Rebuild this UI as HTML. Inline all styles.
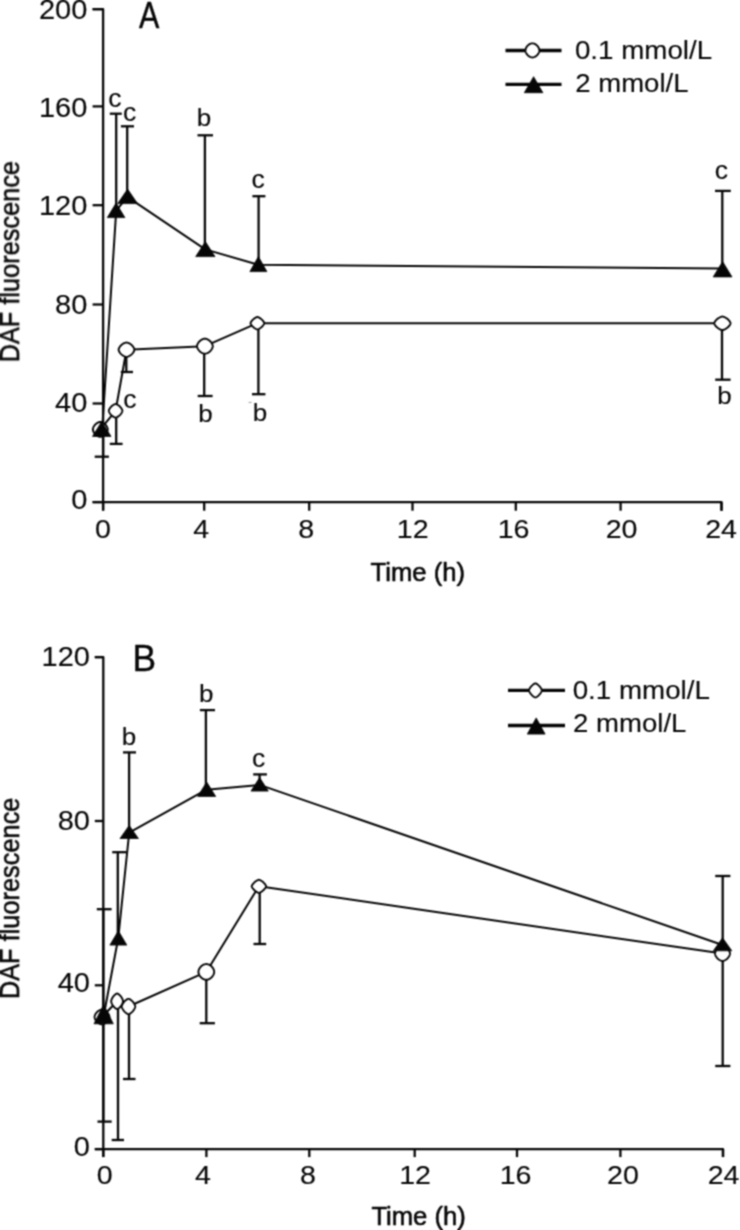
<!DOCTYPE html>
<html><head><meta charset="utf-8"><title>DAF fluorescence</title>
<style>
html,body{margin:0;padding:0;background:#fff;}
body{width:740px;height:1230px;overflow:hidden;}
svg{display:block;}
svg text{font-family:"Liberation Sans",sans-serif;fill:#060606;stroke:#060606;stroke-width:0.12;stroke-linejoin:round;}
</style></head><body>
<svg width="740" height="1230" viewBox="0 0 740 1230" stroke="#060606" fill="none">
<defs><filter id="soft" filterUnits="userSpaceOnUse" x="0" y="0" width="740" height="1230" color-interpolation-filters="sRGB"><feConvolveMatrix order="3" kernelMatrix="1 2 1 2 5 2 1 2 1" divisor="17" edgeMode="duplicate" preserveAlpha="false"/></filter></defs>
<rect x="0" y="0" width="740" height="1230" fill="#fff" stroke="none"/>
<g filter="url(#soft)">
<line x1="116.20" y1="210.00" x2="116.20" y2="113.70" stroke-width="2.3" stroke-linecap="butt"/>
<line x1="109.80" y1="113.70" x2="121.80" y2="113.70" stroke-width="2.3" stroke-linecap="butt"/>
<line x1="127.20" y1="196.00" x2="127.20" y2="126.30" stroke-width="2.3" stroke-linecap="butt"/>
<line x1="120.90" y1="126.30" x2="134.00" y2="126.30" stroke-width="2.3" stroke-linecap="butt"/>
<line x1="204.90" y1="249.00" x2="204.90" y2="135.30" stroke-width="2.3" stroke-linecap="butt"/>
<line x1="197.50" y1="135.30" x2="213.00" y2="135.30" stroke-width="2.3" stroke-linecap="butt"/>
<line x1="258.60" y1="264.00" x2="258.60" y2="196.20" stroke-width="2.3" stroke-linecap="butt"/>
<line x1="252.40" y1="196.20" x2="265.40" y2="196.20" stroke-width="2.3" stroke-linecap="butt"/>
<line x1="722.30" y1="268.00" x2="722.30" y2="190.90" stroke-width="2.3" stroke-linecap="butt"/>
<line x1="715.00" y1="190.90" x2="730.80" y2="190.90" stroke-width="2.3" stroke-linecap="butt"/>
<line x1="103.10" y1="430.00" x2="103.10" y2="456.70" stroke-width="2.3" stroke-linecap="butt"/>
<line x1="94.70" y1="456.70" x2="108.90" y2="456.70" stroke-width="2.3" stroke-linecap="butt"/>
<line x1="116.20" y1="411.00" x2="116.20" y2="443.90" stroke-width="2.3" stroke-linecap="butt"/>
<line x1="109.80" y1="443.90" x2="122.60" y2="443.90" stroke-width="2.3" stroke-linecap="butt"/>
<line x1="126.30" y1="350.00" x2="126.30" y2="372.00" stroke-width="2.3" stroke-linecap="butt"/>
<line x1="120.80" y1="372.00" x2="133.00" y2="372.00" stroke-width="2.3" stroke-linecap="butt"/>
<line x1="204.20" y1="347.00" x2="204.20" y2="396.00" stroke-width="2.3" stroke-linecap="butt"/>
<line x1="197.70" y1="396.00" x2="212.60" y2="396.00" stroke-width="2.3" stroke-linecap="butt"/>
<line x1="258.40" y1="324.00" x2="258.40" y2="394.20" stroke-width="2.3" stroke-linecap="butt"/>
<line x1="252.00" y1="394.20" x2="265.40" y2="394.20" stroke-width="2.3" stroke-linecap="butt"/>
<line x1="722.00" y1="324.00" x2="722.00" y2="379.70" stroke-width="2.3" stroke-linecap="butt"/>
<line x1="715.20" y1="379.70" x2="730.60" y2="379.70" stroke-width="2.3" stroke-linecap="butt"/>
<polyline fill="none" stroke-width="2.0" stroke-linejoin="round" points="100.30,429.40 115.60,410.80 126.50,349.70 204.90,346.20 257.40,323.20 722.40,323.30"/>
<polyline fill="none" stroke-width="2.0" stroke-linejoin="round" points="102.20,429.30 116.20,210.60 127.30,196.80 205.20,249.40 258.30,264.80 722.20,268.40"/>
<polyline fill="none" stroke-width="2.3" stroke-linejoin="round" points="92.60,9.20 103.10,9.20 103.10,510.60"/>
<polyline fill="none" stroke-width="2.3" stroke-linejoin="round" points="92.60,502.10 721.50,502.10 721.50,510.70"/>
<line x1="92.60" y1="9.20" x2="103.10" y2="9.20" stroke-width="2.3" stroke-linecap="butt"/>
<line x1="92.60" y1="106.40" x2="103.10" y2="106.40" stroke-width="2.3" stroke-linecap="butt"/>
<line x1="92.60" y1="205.20" x2="103.10" y2="205.20" stroke-width="2.3" stroke-linecap="butt"/>
<line x1="92.60" y1="304.50" x2="103.10" y2="304.50" stroke-width="2.3" stroke-linecap="butt"/>
<line x1="92.60" y1="403.50" x2="103.10" y2="403.50" stroke-width="2.3" stroke-linecap="butt"/>
<line x1="92.60" y1="502.10" x2="103.10" y2="502.10" stroke-width="2.3" stroke-linecap="butt"/>
<line x1="103.10" y1="502.10" x2="103.10" y2="510.70" stroke-width="2.3" stroke-linecap="butt"/>
<line x1="204.20" y1="502.10" x2="204.20" y2="510.70" stroke-width="2.3" stroke-linecap="butt"/>
<line x1="309.20" y1="502.10" x2="309.20" y2="510.70" stroke-width="2.3" stroke-linecap="butt"/>
<line x1="412.50" y1="502.10" x2="412.50" y2="510.70" stroke-width="2.3" stroke-linecap="butt"/>
<line x1="515.80" y1="502.10" x2="515.80" y2="510.70" stroke-width="2.3" stroke-linecap="butt"/>
<line x1="620.60" y1="502.10" x2="620.60" y2="510.70" stroke-width="2.3" stroke-linecap="butt"/>
<line x1="721.50" y1="502.10" x2="721.50" y2="510.70" stroke-width="2.3" stroke-linecap="butt"/>
<polygon fill="#fff" stroke-width="1.9" stroke-linejoin="round" points="107.75,429.40 107.68,430.08 107.45,430.92 107.09,431.81 106.59,432.70 105.97,433.55 105.26,434.36 104.45,435.07 103.60,435.69 102.71,436.19 101.82,436.55 100.98,436.78 100.30,436.85 99.62,436.78 98.78,436.55 97.89,436.19 97.00,435.69 96.15,435.07 95.34,434.36 94.63,433.55 94.01,432.70 93.51,431.81 93.15,430.92 92.92,430.08 92.85,429.40 92.92,428.72 93.15,427.88 93.51,426.99 94.01,426.10 94.63,425.25 95.34,424.44 96.15,423.73 97.00,423.11 97.89,422.61 98.78,422.25 99.62,422.02 100.30,421.95 100.98,422.02 101.82,422.25 102.71,422.61 103.60,423.11 104.45,423.73 105.26,424.44 105.97,425.25 106.59,426.10 107.09,426.99 107.45,427.88 107.68,428.72"/>
<polygon fill="#fff" stroke-width="1.9" stroke-linejoin="round" points="122.40,410.80 122.32,411.25 122.09,411.92 121.72,412.69 121.21,413.50 120.59,414.31 119.88,415.08 119.11,415.79 118.30,416.41 117.49,416.92 116.72,417.29 116.05,417.52 115.60,417.60 115.15,417.52 114.48,417.29 113.71,416.92 112.90,416.41 112.09,415.79 111.32,415.08 110.61,414.31 109.99,413.50 109.48,412.69 109.11,411.92 108.88,411.25 108.80,410.80 108.88,410.35 109.11,409.68 109.48,408.91 109.99,408.10 110.61,407.29 111.32,406.52 112.09,405.81 112.90,405.19 113.71,404.68 114.48,404.31 115.15,404.08 115.60,404.00 116.05,404.08 116.72,404.31 117.49,404.68 118.30,405.19 119.11,405.81 119.88,406.52 120.59,407.29 121.21,408.10 121.72,408.91 122.09,409.68 122.32,410.35"/>
<polygon fill="#fff" stroke-width="1.9" stroke-linejoin="round" points="134.40,349.70 134.32,350.26 134.06,351.03 133.66,351.87 133.10,352.73 132.42,353.57 131.62,354.37 130.75,355.09 129.82,355.72 128.88,356.22 127.96,356.59 127.12,356.82 126.50,356.90 125.88,356.82 125.04,356.59 124.12,356.22 123.18,355.72 122.25,355.09 121.38,354.37 120.58,353.57 119.90,352.73 119.34,351.87 118.94,351.03 118.68,350.26 118.60,349.70 118.68,349.14 118.94,348.37 119.34,347.53 119.90,346.67 120.58,345.83 121.38,345.03 122.25,344.31 123.18,343.68 124.12,343.18 125.04,342.81 125.88,342.58 126.50,342.50 127.12,342.58 127.96,342.81 128.88,343.18 129.82,343.68 130.75,344.31 131.62,345.03 132.42,345.83 133.10,346.67 133.66,347.53 134.06,348.37 134.32,349.14"/>
<polygon fill="#fff" stroke-width="1.9" stroke-linejoin="round" points="212.80,346.20 212.72,346.89 212.48,347.74 212.10,348.64 211.57,349.54 210.92,350.41 210.15,351.22 209.31,351.95 208.40,352.57 207.45,353.08 206.51,353.45 205.62,353.67 204.90,353.75 204.18,353.67 203.29,353.45 202.35,353.08 201.40,352.57 200.49,351.95 199.65,351.22 198.88,350.41 198.23,349.54 197.70,348.64 197.32,347.74 197.08,346.89 197.00,346.20 197.08,345.51 197.32,344.66 197.70,343.76 198.23,342.86 198.88,341.99 199.65,341.18 200.49,340.45 201.40,339.83 202.35,339.32 203.29,338.95 204.18,338.73 204.90,338.65 205.62,338.73 206.51,338.95 207.45,339.32 208.40,339.83 209.31,340.45 210.15,341.18 210.92,341.99 211.57,342.86 212.10,343.76 212.48,344.66 212.72,345.51"/>
<polygon fill="#fff" stroke-width="1.9" stroke-linejoin="round" points="264.30,323.20 264.22,323.54 263.97,324.11 263.56,324.78 263.02,325.52 262.36,326.28 261.61,327.01 260.80,327.69 259.96,328.29 259.15,328.78 258.40,329.15 257.78,329.37 257.40,329.45 257.02,329.37 256.40,329.15 255.65,328.78 254.84,328.29 254.00,327.69 253.19,327.01 252.44,326.28 251.78,325.52 251.24,324.78 250.83,324.11 250.58,323.54 250.50,323.20 250.58,322.86 250.83,322.29 251.24,321.62 251.78,320.88 252.44,320.12 253.19,319.39 254.00,318.71 254.84,318.11 255.65,317.62 256.40,317.25 257.02,317.03 257.40,316.95 257.78,317.03 258.40,317.25 259.15,317.62 259.96,318.11 260.80,318.71 261.61,319.39 262.36,320.12 263.02,320.88 263.56,321.62 263.97,322.29 264.22,322.86"/>
<polygon fill="#fff" stroke-width="1.9" stroke-linejoin="round" points="730.55,323.30 730.46,323.75 730.18,324.41 729.73,325.18 729.13,325.98 728.39,326.78 727.53,327.55 726.60,328.26 725.63,328.87 724.66,329.37 723.74,329.75 722.94,329.97 722.40,330.05 721.86,329.97 721.06,329.75 720.14,329.37 719.17,328.87 718.20,328.26 717.27,327.55 716.41,326.78 715.67,325.98 715.07,325.18 714.62,324.41 714.34,323.75 714.25,323.30 714.34,322.85 714.62,322.19 715.07,321.42 715.67,320.62 716.41,319.82 717.27,319.05 718.20,318.34 719.17,317.73 720.14,317.23 721.06,316.85 721.86,316.63 722.40,316.55 722.94,316.63 723.74,316.85 724.66,317.23 725.63,317.73 726.60,318.34 727.53,319.05 728.39,319.82 729.13,320.62 729.73,321.42 730.18,322.19 730.46,322.85"/>
<polygon fill="#060606" stroke="#060606" stroke-width="0.8" stroke-linejoin="round" points="101.75,421.40 92.50,436.40 111.00,436.40"/>
<polygon fill="#060606" stroke="#060606" stroke-width="0.8" stroke-linejoin="round" points="116.10,203.00 107.30,217.60 124.90,217.60"/>
<polygon fill="#060606" stroke="#060606" stroke-width="0.8" stroke-linejoin="round" points="127.60,189.10 117.70,203.60 137.50,203.60"/>
<polygon fill="#060606" stroke="#060606" stroke-width="0.8" stroke-linejoin="round" points="205.35,241.60 195.70,256.60 215.00,256.60"/>
<polygon fill="#060606" stroke="#060606" stroke-width="0.8" stroke-linejoin="round" points="258.40,256.60 249.90,271.60 266.90,271.60"/>
<polygon fill="#060606" stroke="#060606" stroke-width="0.8" stroke-linejoin="round" points="722.60,261.60 713.20,276.90 732.00,276.90"/>
<text transform="translate(38.93,18.80) scale(1.082,1)" font-size="26.8">200</text>
<text transform="translate(38.93,117.00) scale(1.082,1)" font-size="26.8">160</text>
<text transform="translate(38.93,214.80) scale(1.082,1)" font-size="26.8">120</text>
<text transform="translate(55.10,314.10) scale(1.082,1)" font-size="26.8">80</text>
<text transform="translate(55.10,411.50) scale(1.082,1)" font-size="26.8">40</text>
<text transform="translate(71.19,509.40) scale(1.082,1)" font-size="26.8">0</text>
<text transform="translate(95.03,537.60) scale(1.1,1)" font-size="26.0">0</text>
<text transform="translate(193.14,537.60) scale(1.1,1)" font-size="26.0">4</text>
<text transform="translate(298.26,537.60) scale(1.1,1)" font-size="26.0">8</text>
<text transform="translate(396.77,537.60) scale(1.1,1)" font-size="26.0">12</text>
<text transform="translate(497.66,537.60) scale(1.1,1)" font-size="26.0">16</text>
<text transform="translate(605.65,537.60) scale(1.1,1)" font-size="26.0">20</text>
<text transform="translate(705.21,537.60) scale(1.1,1)" font-size="26.0">24</text>
<text transform="translate(108.18,106.80) scale(1.0,1)" font-size="26.5">c</text>
<text transform="translate(122.98,120.70) scale(1.0,1)" font-size="26.5">c</text>
<text transform="translate(196.77,126.00) scale(1.1,1)" font-size="23.6">b</text>
<text transform="translate(251.48,188.30) scale(1.0,1)" font-size="26.5">c</text>
<text transform="translate(714.68,179.00) scale(1.0,1)" font-size="26.5">c</text>
<text transform="translate(123.18,408.10) scale(1.0,1)" font-size="26.5">c</text>
<text transform="translate(198.37,422.20) scale(1.1,1)" font-size="23.6">b</text>
<text transform="translate(252.77,420.70) scale(1.1,1)" font-size="23.6">b</text>
<text transform="translate(717.27,404.20) scale(1.1,1)" font-size="23.6">b</text>
<text transform="translate(139.12,28.00) scale(0.832,1)" font-size="36.6" style="stroke-width:0.45">A</text>
<line x1="248.6" y1="402.4" x2="251.6" y2="402.4" stroke="#9a9a9a" stroke-width="1"/>
<line x1="505.50" y1="50.50" x2="561.50" y2="50.50" stroke-width="3.3" stroke-linecap="butt"/>
<polygon fill="#fff" stroke-width="1.9" stroke-linejoin="round" points="539.35,50.40 539.28,51.13 539.09,51.97 538.76,52.82 538.32,53.66 537.77,54.46 537.13,55.20 536.40,55.85 535.62,56.41 534.79,56.86 533.95,57.18 533.12,57.38 532.40,57.45 531.68,57.38 530.85,57.18 530.01,56.86 529.18,56.41 528.40,55.85 527.67,55.20 527.03,54.46 526.48,53.66 526.04,52.82 525.71,51.97 525.52,51.13 525.45,50.40 525.52,49.67 525.71,48.83 526.04,47.98 526.48,47.14 527.03,46.34 527.67,45.60 528.40,44.95 529.18,44.39 530.01,43.94 530.85,43.62 531.68,43.42 532.40,43.35 533.12,43.42 533.95,43.62 534.79,43.94 535.62,44.39 536.40,44.95 537.13,45.60 537.77,46.34 538.32,47.14 538.76,47.98 539.09,48.83 539.28,49.67"/>
<line x1="505.50" y1="84.30" x2="561.50" y2="84.30" stroke-width="3.3" stroke-linecap="butt"/>
<polygon fill="#060606" stroke="#060606" stroke-width="0.8" stroke-linejoin="round" points="533.60,76.70 524.30,92.70 542.90,92.70"/>
<text transform="translate(574.89,59.00) scale(1.068,1)" font-size="26">0.1 mmol/L</text>
<text transform="translate(575.22,91.60) scale(1.06,1)" font-size="26">2 mmol/L</text>
<text transform="translate(370.62,580.70) scale(0.985,1)" font-size="26" style="stroke-width:0.6">Time (h)</text>
<text transform="translate(19.10,362.49) rotate(-90) scale(0.89,1)" font-size="28.5" style="stroke-width:0.6">DAF fluorescence</text>
<line x1="103.30" y1="1014.00" x2="103.30" y2="909.20" stroke-width="2.3" stroke-linecap="butt"/>
<line x1="96.80" y1="909.20" x2="111.60" y2="909.20" stroke-width="2.3" stroke-linecap="butt"/>
<line x1="117.80" y1="938.00" x2="117.80" y2="852.20" stroke-width="2.3" stroke-linecap="butt"/>
<line x1="112.20" y1="852.20" x2="126.50" y2="852.20" stroke-width="2.3" stroke-linecap="butt"/>
<line x1="129.10" y1="832.00" x2="129.10" y2="752.40" stroke-width="2.3" stroke-linecap="butt"/>
<line x1="123.00" y1="752.40" x2="136.00" y2="752.40" stroke-width="2.3" stroke-linecap="butt"/>
<line x1="205.90" y1="789.00" x2="205.90" y2="710.10" stroke-width="2.3" stroke-linecap="butt"/>
<line x1="199.90" y1="710.10" x2="215.00" y2="710.10" stroke-width="2.3" stroke-linecap="butt"/>
<line x1="259.60" y1="784.00" x2="259.60" y2="774.40" stroke-width="2.3" stroke-linecap="butt"/>
<line x1="253.20" y1="774.40" x2="266.90" y2="774.40" stroke-width="2.3" stroke-linecap="butt"/>
<line x1="722.70" y1="945.00" x2="722.70" y2="876.00" stroke-width="2.3" stroke-linecap="butt"/>
<line x1="715.20" y1="876.00" x2="730.40" y2="876.00" stroke-width="2.3" stroke-linecap="butt"/>
<line x1="103.30" y1="1017.00" x2="103.30" y2="1121.60" stroke-width="2.3" stroke-linecap="butt"/>
<line x1="97.50" y1="1121.60" x2="111.70" y2="1121.60" stroke-width="2.3" stroke-linecap="butt"/>
<line x1="118.00" y1="1002.00" x2="118.00" y2="1140.00" stroke-width="2.3" stroke-linecap="butt"/>
<line x1="111.70" y1="1140.00" x2="124.00" y2="1140.00" stroke-width="2.3" stroke-linecap="butt"/>
<line x1="129.00" y1="1007.00" x2="129.00" y2="1079.00" stroke-width="2.3" stroke-linecap="butt"/>
<line x1="123.00" y1="1079.00" x2="135.50" y2="1079.00" stroke-width="2.3" stroke-linecap="butt"/>
<line x1="206.30" y1="972.00" x2="206.30" y2="1023.20" stroke-width="2.3" stroke-linecap="butt"/>
<line x1="199.70" y1="1023.20" x2="214.90" y2="1023.20" stroke-width="2.3" stroke-linecap="butt"/>
<line x1="259.70" y1="887.00" x2="259.70" y2="944.00" stroke-width="2.3" stroke-linecap="butt"/>
<line x1="253.50" y1="944.00" x2="266.20" y2="944.00" stroke-width="2.3" stroke-linecap="butt"/>
<line x1="722.70" y1="954.00" x2="722.70" y2="1066.00" stroke-width="2.3" stroke-linecap="butt"/>
<line x1="715.20" y1="1066.00" x2="730.40" y2="1066.00" stroke-width="2.3" stroke-linecap="butt"/>
<polyline fill="none" stroke-width="2.0" stroke-linejoin="round" points="102.00,1017.00 117.10,1001.30 128.50,1006.50 206.30,971.90 258.90,886.30 722.50,953.50"/>
<polyline fill="none" stroke-width="2.0" stroke-linejoin="round" points="104.00,1014.20 118.20,938.30 129.20,832.60 206.50,789.70 259.60,784.90 722.60,945.00"/>
<polyline fill="none" stroke-width="2.3" stroke-linejoin="round" points="94.80,657.10 103.30,657.10 103.30,1157.10"/>
<polyline fill="none" stroke-width="2.3" stroke-linejoin="round" points="94.80,1149.10 723.00,1149.10 723.00,1157.10"/>
<line x1="94.80" y1="657.10" x2="103.30" y2="657.10" stroke-width="2.3" stroke-linecap="butt"/>
<line x1="94.80" y1="821.00" x2="103.30" y2="821.00" stroke-width="2.3" stroke-linecap="butt"/>
<line x1="94.80" y1="985.30" x2="103.30" y2="985.30" stroke-width="2.3" stroke-linecap="butt"/>
<line x1="94.80" y1="1149.10" x2="103.30" y2="1149.10" stroke-width="2.3" stroke-linecap="butt"/>
<line x1="103.30" y1="1149.10" x2="103.30" y2="1157.10" stroke-width="2.3" stroke-linecap="butt"/>
<line x1="206.40" y1="1149.10" x2="206.40" y2="1157.10" stroke-width="2.3" stroke-linecap="butt"/>
<line x1="309.30" y1="1149.10" x2="309.30" y2="1157.10" stroke-width="2.3" stroke-linecap="butt"/>
<line x1="414.70" y1="1149.10" x2="414.70" y2="1157.10" stroke-width="2.3" stroke-linecap="butt"/>
<line x1="517.00" y1="1149.10" x2="517.00" y2="1157.10" stroke-width="2.3" stroke-linecap="butt"/>
<line x1="620.40" y1="1149.10" x2="620.40" y2="1157.10" stroke-width="2.3" stroke-linecap="butt"/>
<line x1="723.00" y1="1149.10" x2="723.00" y2="1157.10" stroke-width="2.3" stroke-linecap="butt"/>
<polygon fill="#fff" stroke-width="1.9" stroke-linejoin="round" points="109.45,1017.00 109.38,1017.68 109.15,1018.52 108.79,1019.41 108.29,1020.30 107.67,1021.15 106.96,1021.96 106.15,1022.67 105.30,1023.29 104.41,1023.79 103.52,1024.15 102.68,1024.38 102.00,1024.45 101.32,1024.38 100.48,1024.15 99.59,1023.79 98.70,1023.29 97.85,1022.67 97.04,1021.96 96.33,1021.15 95.71,1020.30 95.21,1019.41 94.85,1018.52 94.62,1017.68 94.55,1017.00 94.62,1016.32 94.85,1015.48 95.21,1014.59 95.71,1013.70 96.33,1012.85 97.04,1012.04 97.85,1011.33 98.70,1010.71 99.59,1010.21 100.48,1009.85 101.32,1009.62 102.00,1009.55 102.68,1009.62 103.52,1009.85 104.41,1010.21 105.30,1010.71 106.15,1011.33 106.96,1012.04 107.67,1012.85 108.29,1013.70 108.79,1014.59 109.15,1015.48 109.38,1016.32"/>
<polygon fill="#fff" stroke-width="1.9" stroke-linejoin="round" points="123.05,1001.30 122.98,1001.81 122.78,1002.58 122.45,1003.45 122.01,1004.38 121.47,1005.30 120.85,1006.18 120.17,1006.99 119.46,1007.70 118.75,1008.27 118.08,1008.70 117.49,1008.96 117.10,1009.05 116.71,1008.96 116.12,1008.70 115.45,1008.27 114.74,1007.70 114.03,1006.99 113.35,1006.18 112.73,1005.30 112.19,1004.38 111.75,1003.45 111.42,1002.58 111.22,1001.81 111.15,1001.30 111.22,1000.79 111.42,1000.02 111.75,999.15 112.19,998.22 112.73,997.30 113.35,996.42 114.03,995.61 114.74,994.90 115.45,994.33 116.12,993.90 116.71,993.64 117.10,993.55 117.49,993.64 118.08,993.90 118.75,994.33 119.46,994.90 120.17,995.61 120.85,996.42 121.47,997.30 122.01,998.22 122.45,999.15 122.78,1000.02 122.98,1000.79"/>
<polygon fill="#fff" stroke-width="1.9" stroke-linejoin="round" points="135.25,1006.50 135.17,1007.01 134.95,1007.76 134.57,1008.63 134.07,1009.54 133.46,1010.45 132.75,1011.32 131.98,1012.12 131.18,1012.81 130.38,1013.38 129.61,1013.80 128.95,1014.06 128.50,1014.15 128.05,1014.06 127.39,1013.80 126.62,1013.38 125.82,1012.81 125.02,1012.12 124.25,1011.32 123.54,1010.45 122.93,1009.54 122.43,1008.63 122.05,1007.76 121.83,1007.01 121.75,1006.50 121.83,1005.99 122.05,1005.24 122.43,1004.37 122.93,1003.46 123.54,1002.55 124.25,1001.68 125.02,1000.88 125.82,1000.19 126.62,999.62 127.39,999.20 128.05,998.94 128.50,998.85 128.95,998.94 129.61,999.20 130.38,999.62 131.18,1000.19 131.98,1000.88 132.75,1001.68 133.46,1002.55 134.07,1003.46 134.57,1004.37 134.95,1005.24 135.17,1005.99"/>
<polygon fill="#fff" stroke-width="1.9" stroke-linejoin="round" points="214.20,971.90 214.12,972.72 213.90,973.66 213.53,974.62 213.03,975.56 212.41,976.45 211.68,977.28 210.85,978.01 209.96,978.63 209.02,979.13 208.06,979.50 207.12,979.72 206.30,979.80 205.48,979.72 204.54,979.50 203.58,979.13 202.64,978.63 201.75,978.01 200.92,977.28 200.19,976.45 199.57,975.56 199.07,974.62 198.70,973.66 198.48,972.72 198.40,971.90 198.48,971.08 198.70,970.14 199.07,969.18 199.57,968.24 200.19,967.35 200.92,966.52 201.75,965.79 202.64,965.17 203.58,964.67 204.54,964.30 205.48,964.08 206.30,964.00 207.12,964.08 208.06,964.30 209.02,964.67 209.96,965.17 210.85,965.79 211.68,966.52 212.41,967.35 213.03,968.24 213.53,969.18 213.90,970.14 214.12,971.08"/>
<polygon fill="#fff" stroke-width="1.9" stroke-linejoin="round" points="266.10,886.30 266.01,886.66 265.75,887.25 265.33,887.96 264.76,888.73 264.07,889.52 263.29,890.29 262.44,891.01 261.57,891.63 260.73,892.15 259.94,892.53 259.29,892.77 258.90,892.85 258.51,892.77 257.86,892.53 257.07,892.15 256.23,891.63 255.36,891.01 254.51,890.29 253.73,889.52 253.04,888.73 252.47,887.96 252.05,887.25 251.79,886.66 251.70,886.30 251.79,885.94 252.05,885.35 252.47,884.64 253.04,883.87 253.73,883.08 254.51,882.31 255.36,881.59 256.23,880.97 257.07,880.45 257.86,880.07 258.51,879.83 258.90,879.75 259.29,879.83 259.94,880.07 260.73,880.45 261.57,880.97 262.44,881.59 263.29,882.31 264.07,883.08 264.76,883.87 265.33,884.64 265.75,885.35 266.01,885.94"/>
<polygon fill="#fff" stroke-width="1.9" stroke-linejoin="round" points="729.95,953.50 729.88,954.18 729.65,955.02 729.29,955.91 728.79,956.80 728.17,957.65 727.46,958.46 726.65,959.17 725.80,959.79 724.91,960.29 724.02,960.65 723.18,960.88 722.50,960.95 721.82,960.88 720.98,960.65 720.09,960.29 719.20,959.79 718.35,959.17 717.54,958.46 716.83,957.65 716.21,956.80 715.71,955.91 715.35,955.02 715.12,954.18 715.05,953.50 715.12,952.82 715.35,951.98 715.71,951.09 716.21,950.20 716.83,949.35 717.54,948.54 718.35,947.83 719.20,947.21 720.09,946.71 720.98,946.35 721.82,946.12 722.50,946.05 723.18,946.12 724.02,946.35 724.91,946.71 725.80,947.21 726.65,947.83 727.46,948.54 728.17,949.35 728.79,950.20 729.29,951.09 729.65,951.98 729.88,952.82"/>
<polygon fill="#060606" stroke="#060606" stroke-width="0.8" stroke-linejoin="round" points="103.65,1004.60 94.00,1023.80 113.30,1023.80"/>
<polygon fill="#060606" stroke="#060606" stroke-width="0.8" stroke-linejoin="round" points="118.35,930.80 109.90,945.10 126.80,945.10"/>
<polygon fill="#060606" stroke="#060606" stroke-width="0.8" stroke-linejoin="round" points="129.20,825.40 120.00,838.50 138.40,838.50"/>
<polygon fill="#060606" stroke="#060606" stroke-width="0.8" stroke-linejoin="round" points="206.70,782.00 197.70,796.40 215.70,796.40"/>
<polygon fill="#060606" stroke="#060606" stroke-width="0.8" stroke-linejoin="round" points="259.65,777.60 251.00,791.10 268.30,791.10"/>
<polygon fill="#060606" stroke="#060606" stroke-width="0.8" stroke-linejoin="round" points="722.55,937.80 713.30,950.80 731.80,950.80"/>
<text transform="translate(41.53,665.80) scale(1.082,1)" font-size="26.8">120</text>
<text transform="translate(57.70,829.60) scale(1.082,1)" font-size="26.8">80</text>
<text transform="translate(57.70,992.40) scale(1.082,1)" font-size="26.8">40</text>
<text transform="translate(73.79,1156.30) scale(1.082,1)" font-size="26.8">0</text>
<text transform="translate(96.63,1183.90) scale(1.1,1)" font-size="26.0">0</text>
<text transform="translate(195.04,1183.90) scale(1.1,1)" font-size="26.0">4</text>
<text transform="translate(299.96,1183.90) scale(1.1,1)" font-size="26.0">8</text>
<text transform="translate(399.17,1183.90) scale(1.1,1)" font-size="26.0">12</text>
<text transform="translate(499.66,1183.90) scale(1.1,1)" font-size="26.0">16</text>
<text transform="translate(607.05,1183.90) scale(1.1,1)" font-size="26.0">20</text>
<text transform="translate(707.71,1183.90) scale(1.1,1)" font-size="26.0">24</text>
<text transform="translate(121.77,744.70) scale(1.1,1)" font-size="23.6">b</text>
<text transform="translate(199.07,702.00) scale(1.1,1)" font-size="23.6">b</text>
<text transform="translate(251.88,767.30) scale(1.0,1)" font-size="26.5">c</text>
<text transform="translate(132.48,671.00) scale(0.955,1)" font-size="37.0" style="stroke-width:0.4">B</text>
<line x1="508.00" y1="690.40" x2="565.00" y2="690.40" stroke-width="3.3" stroke-linecap="butt"/>
<polygon fill="#fff" stroke-width="1.9" stroke-linejoin="round" points="541.85,690.40 541.77,690.78 541.54,691.42 541.16,692.19 540.65,693.02 540.03,693.87 539.33,694.70 538.57,695.46 537.80,696.14 537.04,696.70 536.34,697.11 535.75,697.36 535.40,697.45 535.05,697.36 534.46,697.11 533.76,696.70 533.00,696.14 532.23,695.46 531.47,694.70 530.77,693.87 530.15,693.02 529.64,692.19 529.26,691.42 529.03,690.78 528.95,690.40 529.03,690.02 529.26,689.38 529.64,688.61 530.15,687.78 530.77,686.93 531.47,686.10 532.23,685.34 533.00,684.66 533.76,684.10 534.46,683.69 535.05,683.44 535.40,683.35 535.75,683.44 536.34,683.69 537.04,684.10 537.80,684.66 538.57,685.34 539.33,686.10 540.03,686.93 540.65,687.78 541.16,688.61 541.54,689.38 541.77,690.02"/>
<line x1="508.00" y1="725.50" x2="565.00" y2="725.50" stroke-width="3.3" stroke-linecap="butt"/>
<polygon fill="#060606" stroke="#060606" stroke-width="0.8" stroke-linejoin="round" points="536.20,717.90 527.30,734.10 545.10,734.10"/>
<text transform="translate(572.69,699.00) scale(1.068,1)" font-size="26">0.1 mmol/L</text>
<text transform="translate(573.12,731.80) scale(1.06,1)" font-size="26">2 mmol/L</text>
<text transform="translate(371.42,1224.60) scale(0.985,1)" font-size="26" style="stroke-width:0.6">Time (h)</text>
<text transform="translate(19.10,999.19) rotate(-90) scale(0.89,1)" font-size="28.5" style="stroke-width:0.6">DAF fluorescence</text>
</g>
</svg>
</body></html>
